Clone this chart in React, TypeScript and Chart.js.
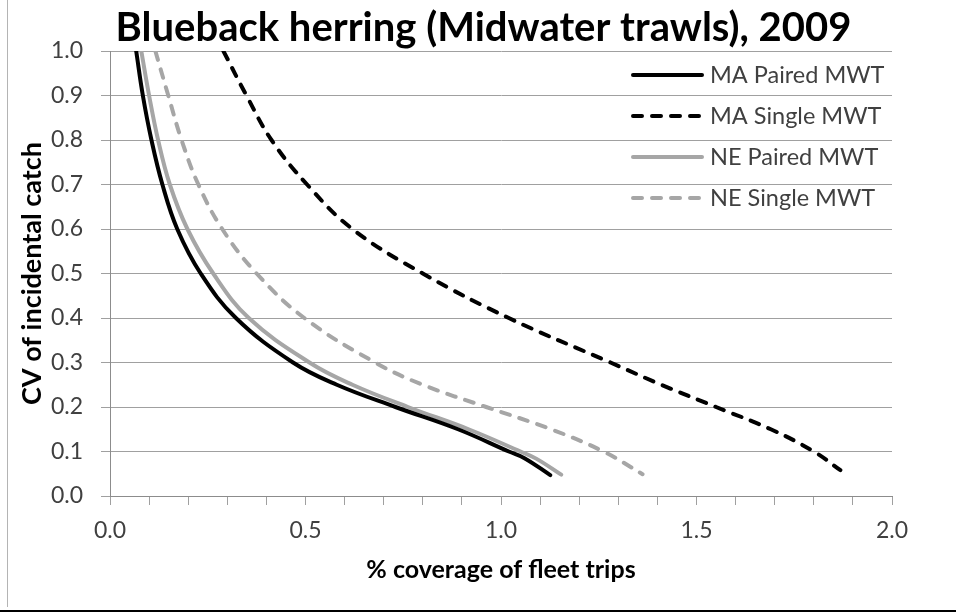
import React, { useEffect, useRef } from "react";
import { Chart, registerables } from "chart.js";

Chart.register(...registerables);

const CHART_TITLE = "Blueback herring (Midwater trawls), 2009";
const X_TITLE = "% coverage of fleet trips";
const Y_TITLE = "CV of incidental catch";
const SERIES_LABELS = ["MA Paired MWT", "MA Single MWT", "NE Paired MWT", "NE Single MWT"];

// % coverage (x) and CV (y)
const maPairedCoverage = [0.067, 0.084, 0.106, 0.134, 0.172, 0.232, 0.322, 0.468, 0.58, 0.73, 0.89, 1.02, 1.06, 1.126];
const maPairedCV = [1.0, 0.9, 0.8, 0.7, 0.6, 0.5, 0.4, 0.3, 0.25, 0.2, 0.15, 0.1, 0.085, 0.047];

const maSingleCoverage = [0.29, 0.349, 0.413, 0.504, 0.62, 0.8, 1.02, 1.28, 1.41, 1.55, 1.69, 1.8, 1.868];
const maSingleCV = [1.0, 0.9, 0.8, 0.7, 0.6, 0.5, 0.4, 0.3, 0.25, 0.2, 0.15, 0.1, 0.058];

const nePairedCoverage = [0.08, 0.1, 0.123, 0.153, 0.198, 0.264, 0.355, 0.51, 0.62, 0.762, 0.917, 1.05, 1.09, 1.154];
const nePairedCV = [1.0, 0.9, 0.8, 0.7, 0.6, 0.5, 0.4, 0.3, 0.25, 0.2, 0.15, 0.1, 0.084, 0.048];

const neSingleCoverage = [0.116, 0.149, 0.183, 0.226, 0.287, 0.375, 0.497, 0.678, 0.8, 0.962, 1.128, 1.262, 1.362];
const neSingleCV = [1.0, 0.9, 0.8, 0.7, 0.6, 0.5, 0.4, 0.3, 0.25, 0.2, 0.15, 0.1, 0.049];

const X_MIN = 0;
const X_MAX = 2;
const X_MINOR_STEP = 0.1;
const X_MAJOR_STEP = 0.5;
const Y_MIN = 0;
const Y_MAX = 1;
const Y_STEP = 0.1;

const BLACK = "#000000";
const GRAY = "#a6a6a6";
const FONT = "Lato, 'Open Sans', sans-serif";

const toPoints = (xs: number[], ys: number[]) => xs.map((x, i) => ({ x, y: ys[i] }));

const legendPlugin = {
  id: "customLegend",
  afterDatasetsDraw(chart: any) {
    const { ctx, chartArea } = chart;
    const x0 = chartArea.right - 259;
    const x1 = x0 + 69;
    const tx = x1 + 8;
    chart.data.datasets.forEach((ds: any, i: number) => {
      const y = chartArea.top + 24 + i * 41;
      ctx.save();
      ctx.strokeStyle = ds.borderColor;
      ctx.lineWidth = ds.borderWidth;
      ctx.setLineDash(ds.borderDash || []);
      ctx.lineCap = ds.borderCapStyle || "butt";
      ctx.beginPath();
      ctx.moveTo(x0, y);
      ctx.lineTo(x1, y);
      ctx.stroke();
      ctx.setLineDash([]);
      ctx.fillStyle = "#404040";
      ctx.font = "23.5px " + FONT;
      ctx.textBaseline = "middle";
      ctx.textAlign = "left";
      ctx.fillText(ds.label, tx, y);
      ctx.restore();
    });
  },
};

const framePlugin = {
  id: "frame",
  afterDraw(chart: any) {
    const { ctx, width, height } = chart;
    ctx.save();
    ctx.fillStyle = "#b4b4b4";
    ctx.fillRect(7, 0, 1, height - 5);
    ctx.fillStyle = "#000000";
    ctx.fillRect(0, height - 2, width, 2);
    ctx.restore();
  },
};

export default function App() {
  const ref = useRef<HTMLCanvasElement | null>(null);

  useEffect(() => {
    if (!ref.current) return;
    const lineBase = {
      pointRadius: 0,
      pointHoverRadius: 0,
      fill: false,
      tension: 0.4,
      borderWidth: 4,
      borderCapStyle: "round" as const,
      borderJoinStyle: "round" as const,
    };
    const chart = new Chart(ref.current, {
      type: "line",
      data: {
        datasets: [
          { ...lineBase, label: SERIES_LABELS[0], data: toPoints(maPairedCoverage, maPairedCV), borderColor: BLACK, backgroundColor: BLACK },
          { ...lineBase, label: SERIES_LABELS[1], data: toPoints(maSingleCoverage, maSingleCV), borderColor: BLACK, backgroundColor: BLACK, borderDash: [9, 10] },
          { ...lineBase, label: SERIES_LABELS[2], data: toPoints(nePairedCoverage, nePairedCV), borderColor: GRAY, backgroundColor: GRAY },
          { ...lineBase, label: SERIES_LABELS[3], data: toPoints(neSingleCoverage, neSingleCV), borderColor: GRAY, backgroundColor: GRAY, borderDash: [9, 10] },
        ],
      },
      options: {
        responsive: false,
        animation: false,
        devicePixelRatio: 1,
        layout: { padding: { left: 11, right: 0, top: 0, bottom: 0 } },
        plugins: {
          legend: { display: false },
          tooltip: { enabled: false },
          title: {
            display: true,
            text: CHART_TITLE,
            color: "#000000",
            font: { family: FONT, size: 40, weight: "bold", lineHeight: 1.1 },
            padding: { top: 6, bottom: 1 },
          },
        },
        scales: {
          x: {
            type: "linear",
            min: X_MIN,
            max: X_MAX,
            afterFit: (s: any) => {
              s.height = 116;
            },
            grid: {
              display: true,
              drawOnChartArea: false,
              drawTicks: true,
              tickLength: 9,
              color: "#a0a0a0",
            },
            border: { display: true, color: "#8c8c8c", width: 1 },
            ticks: {
              stepSize: X_MINOR_STEP,
              autoSkip: false,
              maxRotation: 0,
              padding: 12,
              color: "#404040",
              font: { family: FONT, size: 23 },
              callback: (v: any) => {
                const n = Number(v);
                const r = n / X_MAJOR_STEP;
                return Math.abs(r - Math.round(r)) < 1e-6 ? n.toFixed(1) : "";
              },
            },
            title: {
              display: true,
              text: X_TITLE,
              color: "#000000",
              font: { family: FONT, size: 25, weight: "bold" },
              padding: { top: 0, bottom: 27 },
            },
          },
          y: {
            type: "linear",
            min: Y_MIN,
            max: Y_MAX,
            afterFit: (s: any) => {
              s.width = 99;
            },
            grid: {
              display: true,
              drawOnChartArea: true,
              drawTicks: true,
              tickLength: 9,
              color: "#a0a0a0",
            },
            border: { display: true, color: "#8c8c8c", width: 1 },
            ticks: {
              stepSize: Y_STEP,
              padding: 18,
              color: "#404040",
              font: { family: FONT, size: 23 },
              callback: (v: any) => Number(v).toFixed(1),
            },
            title: {
              display: true,
              text: Y_TITLE,
              color: "#000000",
              font: { family: FONT, size: 27, weight: "bold" },
              padding: { top: 5, bottom: 0 },
            },
          },
          yRight: {
            type: "linear",
            position: "right",
            display: true,
            afterFit: (s: any) => {
              s.width = 64;
            },
            grid: { display: false, drawTicks: false },
            border: { display: false },
            ticks: { display: false },
          },
        },
      } as any,
      plugins: [legendPlugin, framePlugin],
    });
    return () => chart.destroy();
  }, []);

  return (
    <div style={{ position: "fixed", left: 0, top: 0, width: 956, height: 612, background: "#ffffff" }}>
      <canvas ref={ref} width={956} height={612} style={{ display: "block", width: 956, height: 612 }} />
    </div>
  );
}
